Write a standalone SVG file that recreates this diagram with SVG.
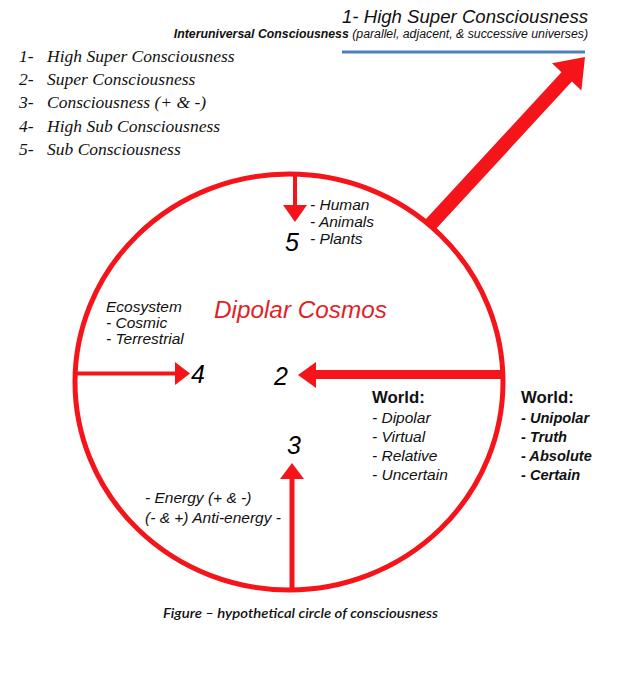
<svg xmlns="http://www.w3.org/2000/svg" width="640" height="698" viewBox="0 0 640 698">
<style>
.red{fill:#f5141a}
.ln{stroke:#f5141a;fill:none}
.t{font-family:"Liberation Sans",Arial,sans-serif;fill:#111}
.it{font-style:italic}
.b{font-weight:bold}
.leg{font-family:"Liberation Serif","Times New Roman",serif;font-style:italic;font-size:17.5px;fill:#111}
.num{font-family:"Liberation Sans",Arial,sans-serif;font-style:italic;font-size:25px;fill:#000}
.lab{font-family:"Liberation Sans",Arial,sans-serif;font-style:italic;font-size:15.5px;fill:#111}
.labb{font-family:"Liberation Sans",Arial,sans-serif;font-style:italic;font-weight:bold;font-size:14.6px;fill:#111}
</style>
<rect width="640" height="698" fill="#ffffff"/>

<g id="header">
<text class="t it" x="588" y="23" font-size="18.6" text-anchor="end">1- High Super Consciousness</text>
<text class="t it" x="588" y="38" font-size="12.3" text-anchor="end"><tspan font-weight="bold">Interuniversal Consciousness</tspan> (parallel, adjacent, &amp; successive universes)</text>
<line x1="342" y1="52" x2="585" y2="52" stroke="#4f7fbf" stroke-width="3"/>
</g>

<g id="legend">
<text class="leg" x="19" y="62">1-</text><text class="leg" x="47" y="62">High Super Consciousness</text>
<text class="leg" x="19" y="85">2-</text><text class="leg" x="47" y="85">Super Consciousness</text>
<text class="leg" x="19" y="108">3-</text><text class="leg" x="47" y="108">Consciousness (+ &amp; -)</text>
<text class="leg" x="19" y="132">4-</text><text class="leg" x="47" y="132">High Sub Consciousness</text>
<text class="leg" x="19" y="155">5-</text><text class="leg" x="47" y="155">Sub Consciousness</text>
</g>

<g id="circle">
<ellipse class="ln" cx="289" cy="382" rx="214" ry="208" stroke-width="5"/>
<text x="214" y="318" font-family="Liberation Sans,Arial,sans-serif" font-style="italic" font-size="24.3" fill="#e21f26">Dipolar Cosmos</text>
</g>

<g id="connectors">
<polygon class="red" points="424.8,220.3 561.5,72.2 552,63.3 585,57 581.4,90.5 571.9,81.6 435.2,229.7"/>
<line class="ln" x1="503" y1="374.5" x2="314" y2="374.5" stroke-width="9"/>
<polygon class="red" points="298,375 316,362 316,388"/>
<line class="ln" x1="75" y1="373.5" x2="177" y2="373.5" stroke-width="4"/>
<polygon class="red" points="190,373.5 175,362 175,385"/>
<line class="ln" x1="295" y1="175" x2="295" y2="207" stroke-width="4"/>
<polygon class="red" points="283,205 307,205 295,222"/>
<line class="ln" x1="292" y1="590" x2="292" y2="477" stroke-width="5"/>
<polygon class="red" points="292,463 280,479 304,479"/>
</g>

<g id="node5">
<text class="num" x="285" y="251" font-size="26">5</text>
<text class="lab" x="310" y="210">- Human</text>
<text class="lab" x="310" y="227">- Animals</text>
<text class="lab" x="310" y="244">- Plants</text>
</g>

<g id="node4">
<text class="num" x="191" y="383">4</text>
<text class="lab" x="106" y="312">Ecosystem</text>
<text class="lab" x="106" y="328">- Cosmic</text>
<text class="lab" x="106" y="344">- Terrestrial</text>
</g>

<g id="node2">
<text class="num" x="274" y="385">2</text>
<text class="t b" x="372" y="403" font-size="16.8">World:</text>
<text class="lab" x="372" y="423">- Dipolar</text>
<text class="lab" x="372" y="442">- Virtual</text>
<text class="lab" x="372" y="461">- Relative</text>
<text class="lab" x="372" y="480">- Uncertain</text>
</g>

<g id="node1">
<text class="t b" x="521" y="403" font-size="16.8">World:</text>
<text class="labb" x="521" y="423">- Unipolar</text>
<text class="labb" x="521" y="442">- Truth</text>
<text class="labb" x="521" y="461">- Absolute</text>
<text class="labb" x="521" y="480">- Certain</text>
</g>

<g id="node3">
<text class="num" x="287" y="454">3</text>
<text class="lab" x="145" y="503">- Energy (+ &amp; -)</text>
<text class="lab" x="145" y="523">(- &amp; +) Anti-energy -</text>
</g>

<g id="caption">
<text x="163" y="618" font-family="Lato,'Open Sans',sans-serif" font-style="italic" font-weight="600" font-size="13" fill="#111" textLength="275" lengthAdjust="spacingAndGlyphs">Figure – hypothetical circle of consciousness</text>
</g>
</svg>
